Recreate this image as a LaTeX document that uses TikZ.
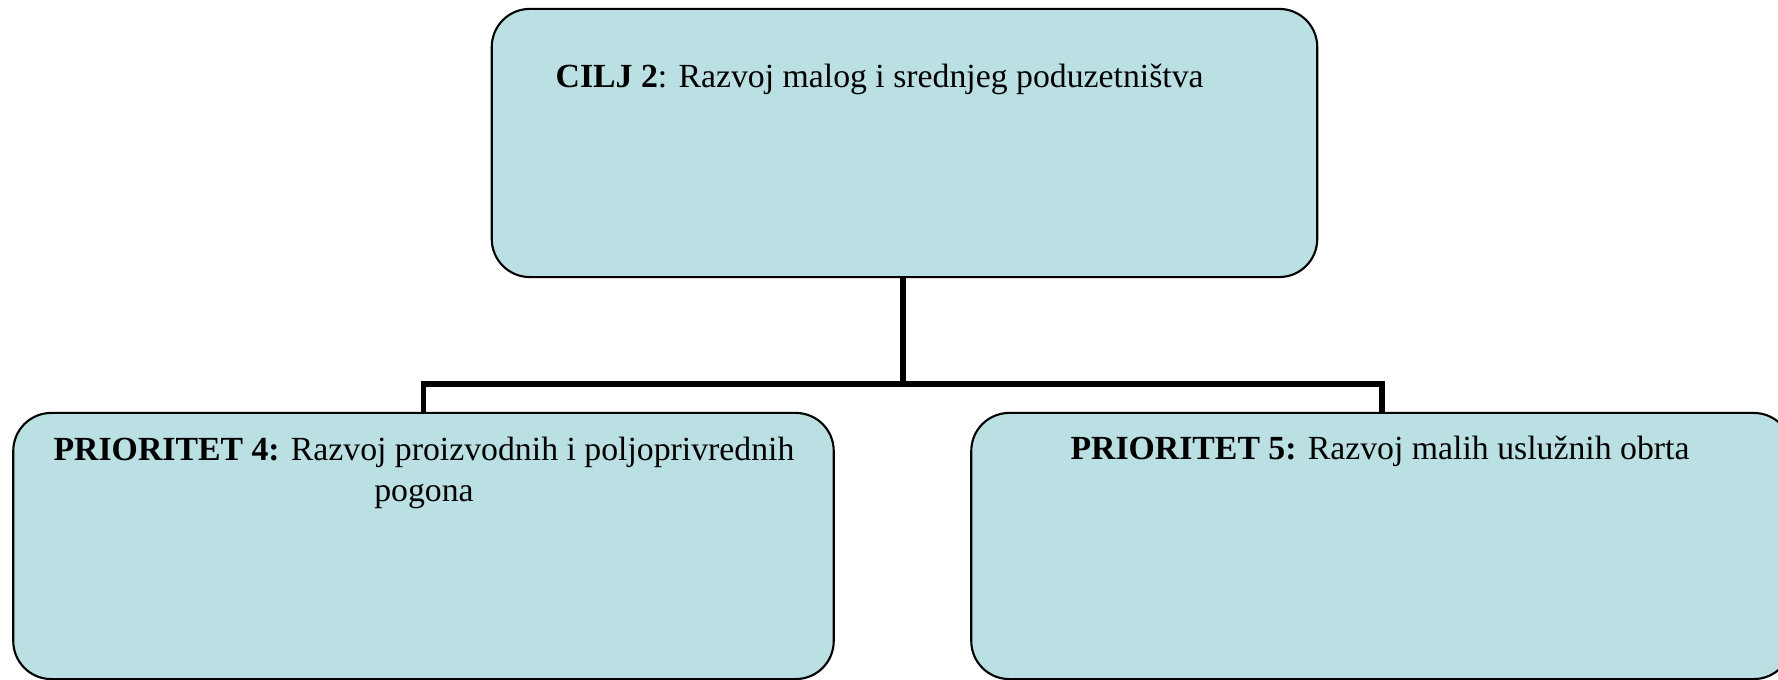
\documentclass[tikz,border=0pt]{standalone}
\usepackage{fontspec}
\setmainfont{Liberation Serif}
\usepackage{tikz}

\definecolor{boxblue}{RGB}{187,224,227}

\begin{document}
\begin{tikzpicture}[x=0.01cm,y=-0.01cm,
    goalbox/.style={draw=black,line width=0.6pt,fill=boxblue,rounded corners=0.38cm,
        minimum width=8.25cm,minimum height=2.68cm,inner sep=0pt},
    priobox/.style={draw=black,line width=0.6pt,fill=boxblue,rounded corners=0.38cm,
        minimum width=8.2cm,minimum height=2.66cm,inner sep=0pt},
    boxtext/.style={inner sep=0pt,font=\fontsize{9.6}{11.9}\selectfont},
    link/.style={line width=1.7pt}]

    % Frame
    \clip (0,0) rectangle (1778,680);

    % Goal box
    \node[goalbox] (goal) at (904.5,143) {};
    \node[boxtext,anchor=base west] (goaltext) at (555,88)
        {\textbf{CILJ 2}: Razvoj malog i srednjeg poduzetništva};

    % Priority boxes
    \node[priobox] (prio4) at (423.5,546) {};
    \node[boxtext,anchor=base,align=center] (prio4text) at (424,502)
        {\textbf{PRIORITET 4:} Razvoj proizvodnih i poljoprivrednih\\pogona};

    \node[priobox] (prio5) at (1381.5,546) {};
    \node[boxtext,anchor=base] (prio5text) at (1380,460)
        {\textbf{PRIORITET 5:} Razvoj malih uslužnih obrta};

    % Connectors
    \coordinate (split) at (903,384);
    \draw[link] (goal.south -| split) -- (split);
    \draw[link] (prio4.north) |- (split) -| (prio5.north);

\end{tikzpicture}
\end{document}
